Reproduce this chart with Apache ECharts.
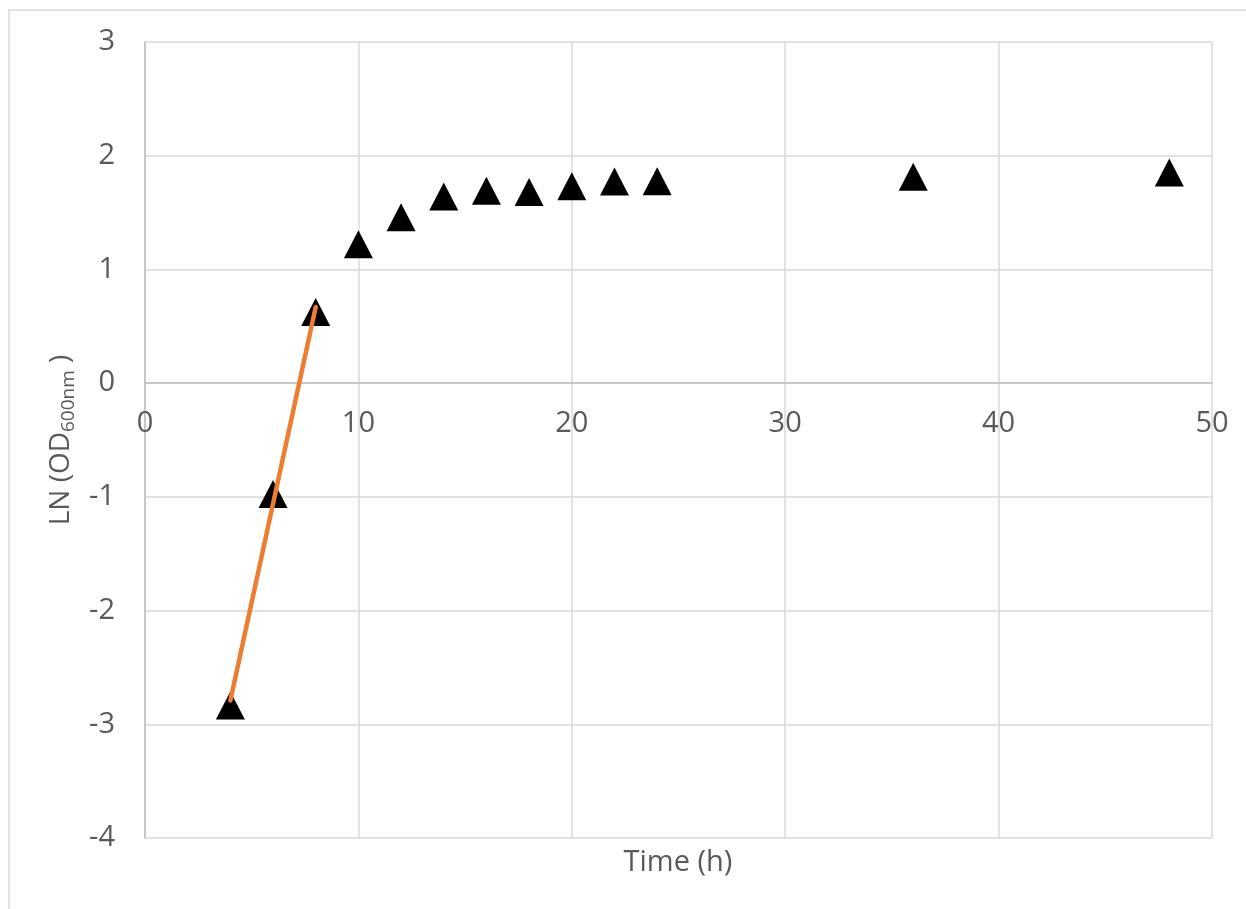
<!DOCTYPE html>
<html>
<head>
<meta charset="utf-8">
<script src="https://cdn.jsdelivr.net/npm/echarts@6/dist/echarts.min.js"></script>
<style>
html,body{margin:0;padding:0;background:#fff;}
#chart{width:1246px;height:909px;}
</style>
</head>
<body>
<div id="chart"></div>
<script>
// Data
var timeH = [4, 6, 8, 10, 12, 14, 16, 18, 20, 22, 24, 36, 48];
var lnOD = [-2.835, -0.975, 0.626, 1.222, 1.459, 1.641, 1.691, 1.681, 1.732, 1.773, 1.775, 1.816, 1.852];
// Linear trendline over the exponential phase (endpoints)
var trendX = [4, 8];
var trendY = [-2.79, 0.67];
var xTicks = [0, 10, 20, 30, 40, 50];
var yTicks = [-4, -3, -2, -1, 0, 1, 2, 3];
var xTitle = 'Time (h)';

var font = '"Open Sans", "Noto Sans", sans-serif';
var textColor = '#595959';

var gridTop = 42, gridBottom = 71, H = 909;
var gridH = H - gridTop - gridBottom;
var yMin = yTicks[0], yMax = yTicks[yTicks.length - 1];
// place the x axis on y = 0
var xAxisOffset = -gridH * (0 - yMin) / (yMax - yMin);

var chart = echarts.init(document.getElementById('chart'), null, {renderer: 'canvas'});
chart.setOption({
  backgroundColor: '#ffffff',
  animation: false,
  graphic: [{
    type: 'rect',
    shape: {x: 9, y: 10, width: 1300, height: 1000},
    style: {fill: 'none', stroke: '#d9d9d9', lineWidth: 1.5},
    silent: true, z: -10
  }, {
    type: 'text',
    x: 678, y: 863,
    style: {text: xTitle, fill: textColor, font: '29px ' + font, textAlign: 'center', textVerticalAlign: 'middle'},
    silent: true
  }],
  grid: {left: 145, top: gridTop, right: 34, bottom: gridBottom, containLabel: false},
  xAxis: {
    type: 'value',
    min: xTicks[0], max: xTicks[xTicks.length - 1], interval: 10,
    offset: xAxisOffset,
    axisLine: {show: true, onZero: false, lineStyle: {color: '#bfbfbf', width: 1.5}},
    axisTick: {show: false},
    axisLabel: {color: textColor, fontFamily: font, fontSize: 29, margin: 26},
    splitLine: {show: true, lineStyle: {color: '#d9d9d9', width: 1.5}}
  },
  yAxis: {
    type: 'value',
    min: yMin, max: yMax, interval: 1,
    axisLine: {show: true, onZero: false, lineStyle: {color: '#bfbfbf', width: 1.5}},
    axisTick: {show: false},
    axisLabel: {color: textColor, fontFamily: font, fontSize: 29, margin: 30},
    splitLine: {show: true, lineStyle: {color: '#d9d9d9', width: 1.5}},
    name: '{a|LN (OD}{s|600nm}{a| )}',
    nameLocation: 'middle',
    nameRotate: 90,
    nameGap: 56,
    nameTextStyle: {
      color: textColor, fontFamily: font,
      rich: {
        a: {fontSize: 28, fontFamily: font, color: textColor, lineHeight: 34, verticalAlign: 'middle'},
        s: {fontSize: 19, fontFamily: font, color: textColor, lineHeight: 19, verticalAlign: 'bottom'}
      }
    }
  },
  series: [{
    type: 'scatter',
    data: timeH.map(function (t, i) { return [t, lnOD[i]]; }),
    symbol: 'triangle',
    symbolSize: [29, 28],
    itemStyle: {color: '#000000', opacity: 1},
    z: 2
  }, {
    type: 'line',
    data: trendX.map(function (t, i) { return [t, trendY[i]]; }),
    symbol: 'none',
    lineStyle: {color: '#ED7D31', width: 4.5, cap: 'round'},
    z: 3
  }]
});
</script>
</body>
</html>
